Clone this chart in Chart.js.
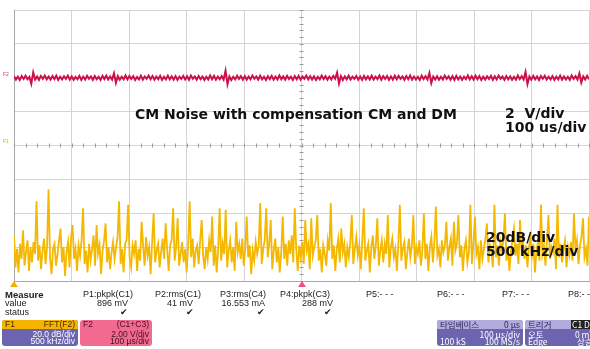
<!DOCTYPE html>
<html>
<head>
<meta charset="utf-8">
<script src="https://cdn.jsdelivr.net/npm/chart.js@4.4.0/dist/chart.umd.min.js"></script>
<style>
  html, body { margin: 0; padding: 0; background: #fff; }
  #wrap { position: relative; width: 590px; height: 349px; overflow: hidden; font-family: "Liberation Sans", Arial, sans-serif; }
  #scope { position: absolute; left: 0; top: 0; }
  .t { position: absolute; font-size: 9px; line-height: 9px; color: #222; white-space: nowrap; }
  .r { text-align: right; }
  .b { font-weight: bold; }
  .box { position: absolute; border-radius: 3px; overflow: hidden; font-size: 8.5px; line-height: 8.5px; }
  .row { position: relative; height: 8px; }
  .row span { position: absolute; top: 0; white-space: nowrap; }
  .l { left: 3px; }
  .rr { right: 3px; }
  .tri { position: absolute; width: 0; height: 0; border-left: 4px solid transparent; border-right: 4px solid transparent; }
</style>
</head>
<body>
<div id="wrap">
  <canvas id="scope" width="590" height="349"></canvas>

  <!-- measurement panel -->
  <div class="t b" style="left:5px;top:290px;font-size:9.5px">Measure</div>
  <div class="t" style="left:5px;top:299px">value</div>
  <div class="t" style="left:5px;top:308px">status</div>

  <div class="t" style="left:83px;top:290px">P1:pkpk(C1)</div>
  <div class="t r" style="left:80px;width:48px;top:299px">896 mV</div>
  <div class="t" style="left:120px;top:308px">✔</div>

  <div class="t" style="left:155px;top:290px">P2:rms(C1)</div>
  <div class="t r" style="left:150px;width:43px;top:299px">41 mV</div>
  <div class="t" style="left:186px;top:308px">✔</div>

  <div class="t" style="left:220px;top:290px">P3:rms(C4)</div>
  <div class="t r" style="left:210px;width:55px;top:299px">16.553 mA</div>
  <div class="t" style="left:257px;top:308px">✔</div>

  <div class="t" style="left:280px;top:290px">P4:pkpk(C3)</div>
  <div class="t r" style="left:280px;width:53px;top:299px">288 mV</div>
  <div class="t" style="left:324px;top:308px">✔</div>

  <div class="t" style="left:366px;top:290px">P5:- - -</div>
  <div class="t" style="left:437px;top:290px">P6:- - -</div>
  <div class="t" style="left:502px;top:290px">P7:- - -</div>
  <div class="t" style="left:568px;top:290px">P8:- - -</div>

  <!-- F1 box -->
  <div class="box" style="left:2px;top:320px;width:76px;height:26px;background:#6c64ae;color:#fff">
    <div class="row" style="background:#f6b400;color:#3a2a00;height:9px"><span class="l">F1</span><span class="rr">FFT(F2)</span></div>
    <div class="row"><span class="rr" style="top:1px">20.0 dB/div</span></div>
    <div class="row"><span class="rr">500 kHz/div</span></div>
  </div>
  <!-- F2 box -->
  <div class="box" style="left:80px;top:320px;width:72px;height:26px;background:#f26a90;color:#40101e">
    <div class="row" style="height:9px"><span class="l">F2</span><span class="rr">(C1+C3)</span></div>
    <div class="row"><span class="rr" style="top:1px">2.00 V/div</span></div>
    <div class="row"><span class="rr">100 µs/div</span></div>
  </div>
  <!-- timebase box -->
  <div class="box" style="left:437px;top:320px;width:86px;height:26px;background:#6c64ae;color:#fff;font-family:'Noto Sans CJK KR','Liberation Sans',sans-serif">
    <div class="row" style="background:#b2acdc;color:#241c5a;height:9px"><span class="l">타임베이스</span><span class="rr">0 µs</span></div>
    <div class="row"><span class="rr" style="top:1px">100 µs/div</span></div>
    <div class="row"><span class="l">100 kS</span><span class="rr">100 MS/s</span></div>
  </div>
  <!-- trigger box -->
  <div class="box" style="left:525px;top:320px;width:72px;height:26px;background:#6c64ae;color:#fff;font-family:'Noto Sans CJK KR','Liberation Sans',sans-serif">
    <div class="row" style="background:#b2acdc;color:#241c5a;height:9px"><span class="l">트리거</span><span style="left:46px;background:#222;color:#fff;padding:0 1px">C1 DC</span></div>
    <div class="row"><span class="l" style="top:1px">오토</span><span style="left:50px;top:1px">0 mV</span></div>
    <div class="row"><span class="l">Edge</span><span style="left:52px">상승</span></div>
  </div>

  <!-- channel markers -->
  <div class="t" style="left:3px;top:72px;font-size:5px;line-height:5px;color:#e0306a">F2</div>
  <div class="t" style="left:3px;top:139px;font-size:5px;line-height:5px;color:#e8a800">F1</div>
  <div class="tri" style="left:10px;top:281px;border-bottom:6px solid #f0b000"></div>
  <div class="tri" style="left:298px;top:281px;border-bottom:6px solid #ee5080"></div>
</div>

<script>
// sample index runs across 10 horizontal divisions
const X_DIVS = 10;

// F2 = C1+C3 time trace, mV around its offset (2 V/div)
const f2Values = [
  90, -110, 60, -130, 100, -70, 120, -90, 50, -350, 320, -100, 80, -120, 110, -60, 130, -90, 70, -110,
  100, -80, 120, -130, 60, -100, 90, -70, 130, -110, 80, -120, 50, -90, 110, -130, 70, -100, 120, -60,
  80, -120, 100, -90, 60, -130, 110, -80, 120, -100, 70, -110, 260, -300, 90, -120, 60, -90, 130, -100,
  110, -70, 90, -130, 50, -100, 120, -110, 80, -60, 130, -90, 100, -120, 70, -80, 110, -130, 60, -100,
  120, -90, 80, -110, 100, -130, 60, -70, 110, -100, 90, -120, 130, -60, 80, -110, 100, -90, 70, -130,
  60, -100, 130, -80, 110, -120, 70, -90, 100, -110, 420, -380, 80, -130, 60, -100, 120, -70, 90, -110,
  100, -120, 70, -90, 130, -60, 80, -110, 120, -100, 60, -130, 90, -80, 110, -120, 70, -100, 130, -90,
  80, -110, 120, -70, 60, -130, 100, -90, 110, -120, 70, -60, 130, -100, 90, -110, 80, -130, 60, -90,
  130, -80, 90, -120, 70, -100, 110, -60, 300, -340, 100, -130, 80, -90, 120, -110, 60, -70, 100, -120,
  70, -130, 110, -90, 80, -100, 120, -110, 60, -80, 130, -120, 90, -70, 100, -130, 70, -110, 120, -90,
  110, -60, 80, -120, 100, -90, 130, -110, 70, -100, 60, -130, 120, -80, 90, -100, 280, -310, 70, -110,
  90, -120, 60, -100, 130, -70, 80, -110, 100, -130, 110, -90, 70, -120, 60, -80, 130, -100, 90, -110,
  120, -90, 100, -130, 60, -110, 80, -70, 110, -120, 90, -100, 130, -60, 70, -130, 100, -90, 80, -120,
  60, -110, 130, -80, 90, -100, 340, -370, 70, -120, 110, -90, 80, -130, 100, -60, 120, -110, 60, -100,
  100, -130, 70, -90, 120, -110, 80, -100, 60, -120, 130, -70, 90, -110, 250, -280, 80, -100, 110, -90
];

// F1 = FFT(F2), dB above screen bottom (20 dB/div)
const f1Values = [
  27, 8, 19, 5, 22, 13, 30, 9, 17, 24, 6, 20, 11, 23, 16, 47,
  12, 21, 7, 18, 25, 10, 20, 54, 14, 4, 19, 22, 9, 16, 24, 31,
  11, 20, 3, 17, 23, 8, 26, 33, 13, 19, 6, 21, 15, 24, 43, 10,
  18, 5, 22, 12, 19, 27, 9, 33, 16, 21, 4, 18, 24, 34, 11, 20,
  7, 17, 23, 13, 20, 26, 47, 10, 19, 5, 22, 24, 45, 14, 8, 21,
  16, 24, 6, 19, 12, 35, 21, 9, 26, 15, 20, 4, 23, 40, 11, 18,
  22, 8, 17, 25, 13, 34, 19, 6, 21, 24, 43, 12, 20, 37, 9, 16,
  23, 11, 19, 5, 22, 47, 14, 25, 8, 18, 21, 10, 24, 36, 15, 7,
  20, 13, 24, 17, 38, 9, 21, 5, 19, 43, 12, 22, 16, 42, 8, 18,
  24, 11, 20, 6, 35, 17, 22, 13, 25, 9, 19, 38, 14, 21, 4, 18,
  12, 23, 16, 21, 46, 10, 19, 24, 43, 14, 22, 36, 7, 18, 25, 11,
  20, 5, 17, 38, 13, 22, 9, 24, 16, 27, 11, 43, 19, 6, 21, 14,
  23, 10, 36, 18, 22, 7, 37, 15, 20, 24, 39, 12, 19, 5, 21, 16,
  9, 24, 18, 46, 13, 21, 6, 19, 25, 11, 31, 17, 22, 8, 20, 14,
  23, 39, 10, 19, 26, 15, 21, 7, 24, 43, 12, 18, 22, 5, 20, 27,
  13, 21, 37, 9, 18, 24, 11, 22, 16, 39, 8, 20, 25, 14, 19, 6,
  22, 45, 12, 19, 23, 7, 17, 25, 14, 21, 39, 10, 20, 16, 24, 9,
  18, 40, 13, 22, 6, 20, 26, 11, 23, 44, 15, 19, 8, 24, 17, 21,
  35, 12, 20, 25, 9, 35, 18, 22, 39, 14, 21, 6, 19, 24, 11, 17,
  45, 10, 22, 38, 16, 20, 7, 24, 13, 19, 25, 34, 11, 21, 17, 8,
  45, 14, 21, 9, 23, 18, 24, 40, 12, 20, 6, 17, 25, 31, 15, 22,
  10, 36, 19, 24, 13, 21, 8, 20, 26, 15, 22, 5, 18, 23, 12, 45,
  16, 21, 9, 24, 39, 13, 20, 17, 25, 7, 45, 14, 22, 11, 19, 24,
  8, 20, 15, 23, 12, 40, 18, 24, 10, 21, 26, 37, 14, 19, 9, 38
];

// on-screen notes
const noteMain = 'CM Noise with compensation CM and DM';
const noteTime = ['2  V/div', '100 us/div'];
const noteFreq = ['20dB/div', '500 kHz/div'];

const toPoints = vals => vals.map((v, i) => ({ x: i * X_DIVS / (vals.length - 1), y: v }));

// -----------------------------
// graticule center ticks + notes
// -----------------------------
const scopeDecor = {
  id: 'scopeDecor',
  beforeDatasetsDraw(chart) {
    const { ctx, scales: { x, y } } = chart;
    const cy = y.getPixelForValue(80);
    const cx = x.getPixelForValue(5);
    ctx.save();
    ctx.strokeStyle = '#9a9a9a';
    ctx.lineWidth = 1;
    ctx.beginPath();
    for (let t = 0; t <= 50; t++) {
      const px = Math.round(x.getPixelForValue(t * 0.2)) + 0.5;
      ctx.moveTo(px, cy - 2); ctx.lineTo(px, cy + 2);
    }
    for (let t = 0; t <= 40; t++) {
      const py = Math.round(y.getPixelForValue(t * 4)) + 0.5;
      ctx.moveTo(cx - 2, py); ctx.lineTo(cx + 2, py);
    }
    ctx.stroke();
    ctx.restore();
  },
  afterDatasetsDraw(chart) {
    const { ctx } = chart;
    ctx.save();
    ctx.fillStyle = '#111';
    ctx.font = 'bold 14px "DejaVu Sans", sans-serif';
    ctx.textBaseline = 'alphabetic';
    ctx.fillText(noteMain, 135, 119);
    ctx.fillText(noteTime[0], 505, 118);
    ctx.fillText(noteTime[1], 505, 132);
    ctx.fillText(noteFreq[0], 486, 242);
    ctx.fillText(noteFreq[1], 486, 256);
    ctx.restore();
  }
};

const gridOpts = { color: '#d4d4d4', drawTicks: false, lineWidth: 1 };
const borderOpts = { color: '#a8a8a8', width: 1 };

new Chart(document.getElementById('scope'), {
  type: 'line',
  data: {
    datasets: [
      {
        label: 'F2',
        data: toPoints(f2Values),
        yAxisID: 'yV',
        borderColor: '#cc104a',
        borderWidth: 2,
        pointRadius: 0,
        tension: 0
      },
      {
        label: 'F1',
        data: toPoints(f1Values),
        yAxisID: 'y',
        borderColor: '#f4b800',
        borderWidth: 1.8,
        pointRadius: 0,
        tension: 0
      }
    ]
  },
  options: {
    responsive: false,
    animation: false,
    layout: { padding: { left: 14, top: 10, right: 1, bottom: 68 } },
    plugins: { legend: { display: false }, tooltip: { enabled: false } },
    scales: {
      x: { type: 'linear', min: 0, max: X_DIVS, ticks: { display: false, stepSize: 1 }, grid: gridOpts, border: borderOpts },
      y: { min: 0, max: 160, ticks: { display: false, stepSize: 20 }, grid: gridOpts, border: borderOpts },
      yV: { display: false, min: -12000, max: 4000 }
    }
  },
  plugins: [scopeDecor]
});
</script>
</body>
</html>
